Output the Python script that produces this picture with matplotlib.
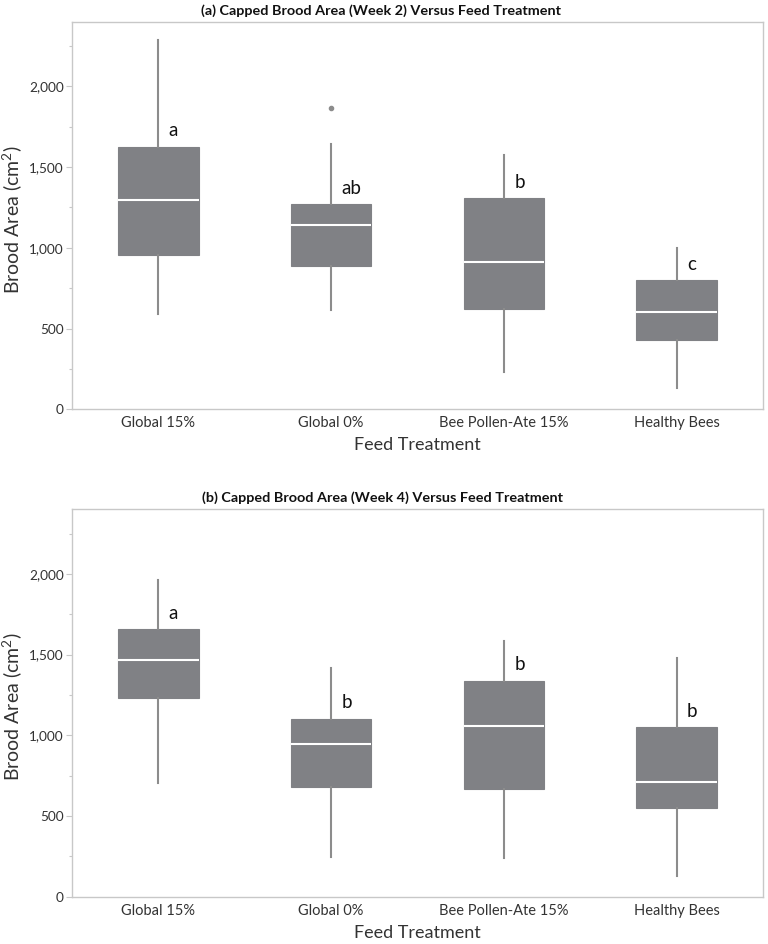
import matplotlib
matplotlib.use("Agg")
import matplotlib.pyplot as plt
from matplotlib.ticker import MultipleLocator, AutoMinorLocator, StrMethodFormatter

plt.rcParams['font.family'] = ['Lato', 'DejaVu Sans']
plt.rcParams['mathtext.fontset'] = 'custom'
plt.rcParams['mathtext.rm'] = 'Lato'

# treatments on the x axis
groups = ["Global 15%", "Global 0%", "Bee Pollen-Ate 15%", "Healthy Bees"]

# week 2 box statistics (cm2)
w2_low = [592, 617, 234, 134]
w2_q1 = [954, 886, 621, 430]
w2_med = [1294, 1139, 911, 602]
w2_q3 = [1627, 1269, 1306, 799]
w2_high = [2288, 1642, 1573, 996]
w2_outliers = [[], [1867], [], []]
w2_letters = ["a", "ab", "b", "c"]

# week 4 box statistics (cm2)
w4_low = [707, 244, 238, 130]
w4_q1 = [1230, 682, 668, 552]
w4_med = [1465, 945, 1060, 709]
w4_q3 = [1657, 1103, 1337, 1050]
w4_high = [1963, 1416, 1581, 1478]
w4_outliers = [[], [], [], []]
w4_letters = ["a", "b", "b", "b"]

BOX = "#808185"
WHISK = "#8c8c8c"
SPINE = "#c8c8c8"
TXT = "#333333"


def draw_panel(ax, low, q1, med, q3, high, outl, letters):
    stats = []
    for i in range(len(groups)):
        stats.append(dict(whislo=low[i], q1=q1[i], med=med[i], q3=q3[i],
                          whishi=high[i], fliers=outl[i]))
    ax.bxp(stats, positions=range(len(groups)), widths=0.465,
           patch_artist=True, showcaps=False,
           boxprops=dict(facecolor=BOX, edgecolor=BOX, linewidth=0.8),
           whiskerprops=dict(color=WHISK, linewidth=1.5),
           medianprops=dict(color="white", linewidth=1.5),
           flierprops=dict(marker="o", markersize=3, markerfacecolor=WHISK,
                           markeredgecolor=WHISK))
    # significance letters just above each box
    for i, lab in enumerate(letters):
        ax.text(i + 0.06, q3[i] + 100, lab, ha="left", va="center",
                fontsize=13.5, color="#111111")

    ax.set_xlim(-0.5, len(groups) - 0.5)
    ax.set_ylim(0, 2400)
    ax.yaxis.set_major_locator(MultipleLocator(500))
    ax.yaxis.set_minor_locator(AutoMinorLocator(2))
    ax.yaxis.set_major_formatter(StrMethodFormatter("{x:,.0f}"))
    ax.set_xticks(range(len(groups)))
    ax.set_xticklabels(groups)
    ax.tick_params(axis="x", length=0, pad=5, labelsize=10.5, labelcolor=TXT)
    ax.tick_params(axis="y", which="major", length=4, width=0.8, color=SPINE,
                   pad=2, labelsize=9.8, labelcolor=TXT)
    ax.tick_params(axis="y", which="minor", length=2.5, width=0.8, color=SPINE)
    for s in ax.spines.values():
        s.set_color(SPINE)
        s.set_linewidth(1.0)
    ax.set_xlabel("Feed Treatment", fontsize=13, color=TXT, labelpad=5)
    ax.set_ylabel(r"Brood Area (cm$^{\mathrm{2}}$)", fontsize=14, color=TXT)
    ax.yaxis.set_label_coords(-0.068, 0.49)


fig = plt.figure(figsize=(7.68, 9.44), dpi=100)
ax1 = fig.add_axes([0.09375, 0.5664, 0.8997, 0.4106])
ax2 = fig.add_axes([0.09375, 0.0501, 0.8997, 0.4104])

draw_panel(ax1, w2_low, w2_q1, w2_med, w2_q3, w2_high, w2_outliers, w2_letters)
draw_panel(ax2, w4_low, w4_q1, w4_med, w4_q3, w4_high, w4_outliers, w4_letters)

fig.text(381 / 768, 1 - 11 / 944, "(a) Capped Brood Area (Week 2) Versus Feed Treatment",
         ha="center", va="center", fontsize=10.4, fontweight="bold", color="#111111")
fig.text(382 / 768, 1 - 498 / 944, "(b) Capped Brood Area (Week 4) Versus Feed Treatment",
         ha="center", va="center", fontsize=10.4, fontweight="bold", color="#111111")

fig.savefig("out.png", dpi=100)
